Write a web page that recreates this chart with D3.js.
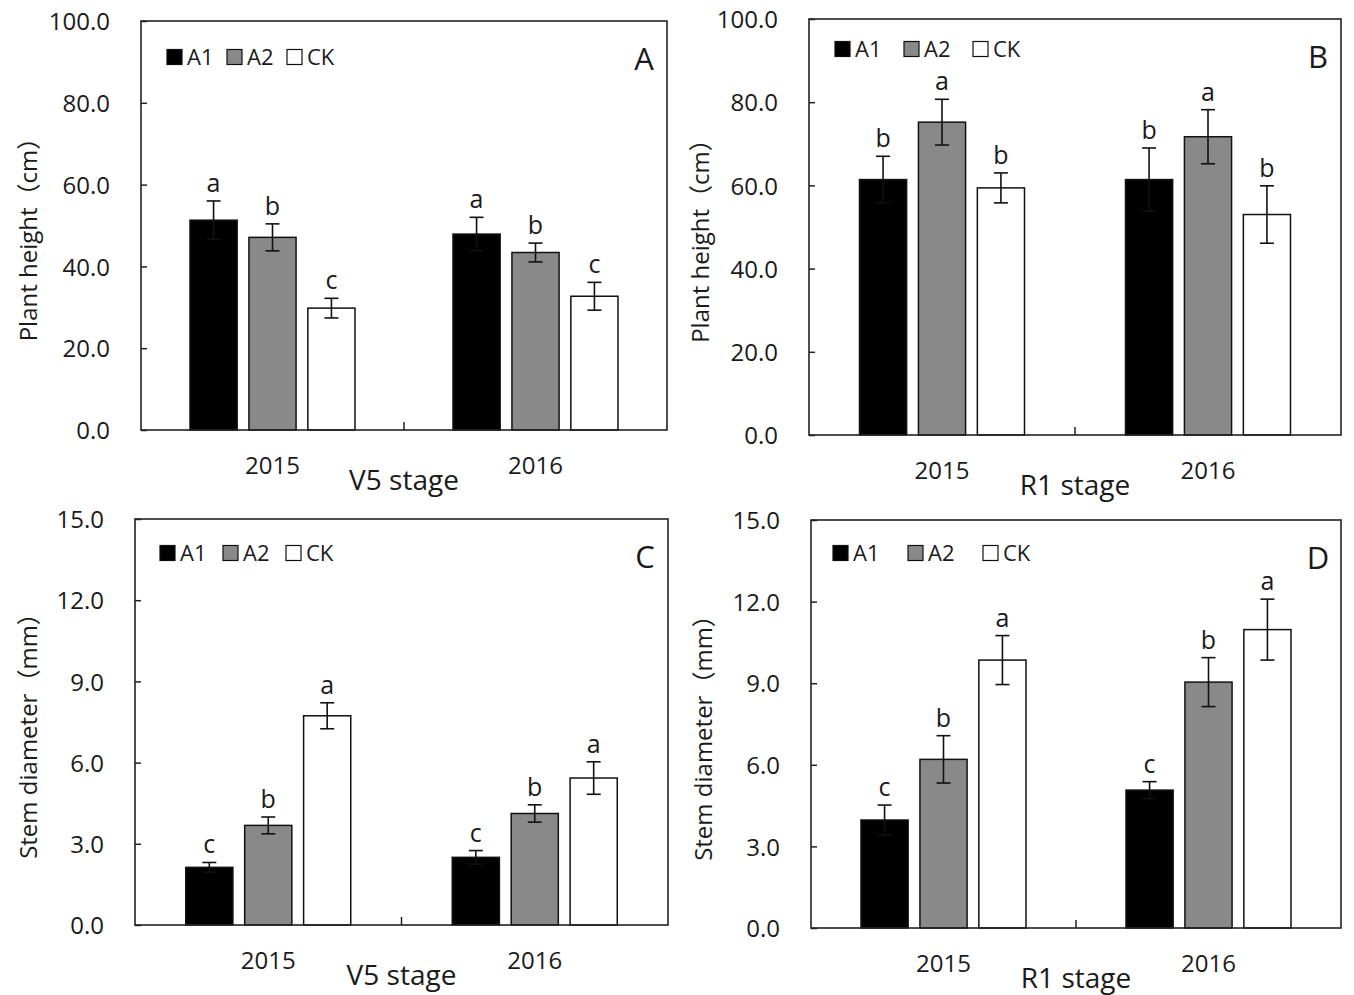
<!DOCTYPE html>
<html>
<head>
<meta charset="utf-8">
<script src="https://cdn.jsdelivr.net/npm/d3@7"></script>
<style>
  html, body { margin: 0; padding: 0; background: #fff; }
  text { font-family: "Open Sans", "Liberation Sans", "Noto Sans CJK SC", sans-serif; fill: #1a1a1a; }
</style>
</head>
<body>
<svg id="chart" width="1354" height="995"></svg>
<script>
// ---------------- data ----------------
const years = ["2015", "2016"];
const series = ["A1", "A2", "CK"];

// Panel A: plant height, V5 stage (cm)
const heightV5_A1 = [51.3, 47.9];
const heightV5_A2 = [47.1, 43.4];
const heightV5_CK = [29.8, 32.7];
const heightV5_err_A1 = [4.7, 4.1];
const heightV5_err_A2 = [3.3, 2.3];
const heightV5_err_CK = [2.4, 3.4];
const heightV5_sig_A1 = ["a", "a"];
const heightV5_sig_A2 = ["b", "b"];
const heightV5_sig_CK = ["c", "c"];

// Panel B: plant height, R1 stage (cm)
const heightR1_A1 = [61.4, 61.4];
const heightR1_A2 = [75.2, 71.7];
const heightR1_CK = [59.4, 53.0];
const heightR1_err_A1 = [5.6, 7.6];
const heightR1_err_A2 = [5.5, 6.5];
const heightR1_err_CK = [3.6, 6.9];
const heightR1_sig_A1 = ["b", "b"];
const heightR1_sig_A2 = ["a", "a"];
const heightR1_sig_CK = ["b", "b"];

// Panel C: stem diameter, V5 stage (mm)
const stemV5_A1 = [2.13, 2.50];
const stemV5_A2 = [3.68, 4.12];
const stemV5_CK = [7.73, 5.43];
const stemV5_err_A1 = [0.18, 0.25];
const stemV5_err_A2 = [0.31, 0.32];
const stemV5_err_CK = [0.48, 0.60];
const stemV5_sig_A1 = ["c", "c"];
const stemV5_sig_A2 = ["b", "b"];
const stemV5_sig_CK = ["a", "a"];

// Panel D: stem diameter, R1 stage (mm)
const stemR1_A1 = [3.97, 5.07];
const stemR1_A2 = [6.20, 9.04];
const stemR1_CK = [9.85, 10.97];
const stemR1_err_A1 = [0.55, 0.31];
const stemR1_err_A2 = [0.87, 0.90];
const stemR1_err_CK = [0.90, 1.12];
const stemR1_sig_A1 = ["c", "c"];
const stemR1_sig_A2 = ["b", "b"];
const stemR1_sig_CK = ["a", "a"];

const heightTicks = [0, 20, 40, 60, 80, 100];
const stemTicks = [0, 3, 6, 9, 12, 15];

const heightTitle = "Plant height（cm）";
const stemTitle = "Stem diameter（mm）";
const panelLetters = ["A", "B", "C", "D"];
const stageTitles = ["V5 stage", "R1 stage", "V5 stage", "R1 stage"];

// ---------------- layout / style ----------------
const seriesFill = { A1: "#000000", A2: "#898989", CK: "#ffffff" };

const panels = [
  { letter: panelLetters[0], stage: stageTitles[0], ytitle: heightTitle, ticks: heightTicks,
    vals: [heightV5_A1, heightV5_A2, heightV5_CK], errs: [heightV5_err_A1, heightV5_err_A2, heightV5_err_CK],
    sigs: [heightV5_sig_A1, heightV5_sig_A2, heightV5_sig_CK],
    box: { l: 141, r: 667, t: 21, b: 430 }, titleX: 37, legStep: 60, legX: 26, legY: 36 },
  { letter: panelLetters[1], stage: stageTitles[1], ytitle: heightTitle, ticks: heightTicks,
    vals: [heightR1_A1, heightR1_A2, heightR1_CK], errs: [heightR1_err_A1, heightR1_err_A2, heightR1_err_CK],
    sigs: [heightR1_sig_A1, heightR1_sig_A2, heightR1_sig_CK],
    box: { l: 809, r: 1341, t: 19, b: 435 }, titleX: 709, legStep: 69, legX: 26, legY: 30 },
  { letter: panelLetters[2], stage: stageTitles[2], ytitle: stemTitle, ticks: stemTicks,
    vals: [stemV5_A1, stemV5_A2, stemV5_CK], errs: [stemV5_err_A1, stemV5_err_A2, stemV5_err_CK],
    sigs: [stemV5_sig_A1, stemV5_sig_A2, stemV5_sig_CK],
    box: { l: 135, r: 668, t: 519, b: 925 }, titleX: 37, legStep: 63, legX: 25, legY: 34 },
  { letter: panelLetters[3], stage: stageTitles[3], ytitle: stemTitle, ticks: stemTicks,
    vals: [stemR1_A1, stemR1_A2, stemR1_CK], errs: [stemR1_err_A1, stemR1_err_A2, stemR1_err_CK],
    sigs: [stemR1_sig_A1, stemR1_sig_A2, stemR1_sig_CK],
    box: { l: 811, r: 1341, t: 520, b: 928 }, titleX: 712, legStep: 75, legX: 22, legY: 33 }
];

const svg = d3.select("#chart");
const fmt = d3.format(".1f");

panels.forEach(p => {
  const { l, r, t, b } = p.box;
  const g = svg.append("g");

  const y = d3.scaleLinear().domain([p.ticks[0], p.ticks[p.ticks.length - 1]]).range([b, t]);
  const x = d3.scaleBand().domain(years).range([l, r]).padding(0);
  const inner = d3.scaleBand().domain(series).range([-82.5, 82.5]).paddingInner(0.2).paddingOuter(0);

  // bars
  series.forEach((s, si) => {
    years.forEach((yr, yi) => {
      const v = p.vals[si][yi];
      const e = p.errs[si][yi];
      const cx = x(yr) + x.bandwidth() / 2;
      const bx = cx + inner(s);
      g.append("rect")
        .attr("x", bx).attr("y", y(v))
        .attr("width", inner.bandwidth()).attr("height", y(0) - y(v))
        .attr("fill", seriesFill[s]).attr("stroke", "#111").attr("stroke-width", 1.5);
      const mx = bx + inner.bandwidth() / 2;
      const capW = 7;
      const eg = g.append("g").attr("stroke", "#111").attr("stroke-width", 1.6);
      eg.append("line").attr("x1", mx).attr("x2", mx).attr("y1", y(v + e)).attr("y2", y(v - e));
      eg.append("line").attr("x1", mx - capW).attr("x2", mx + capW).attr("y1", y(v + e)).attr("y2", y(v + e));
      eg.append("line").attr("x1", mx - capW).attr("x2", mx + capW).attr("y1", y(v - e)).attr("y2", y(v - e));
      g.append("text")
        .attr("x", mx).attr("y", y(v + e) - 9)
        .attr("text-anchor", "middle").style("font-size", "25px")
        .text(p.sigs[si][yi]);
    });
  });

  // frame
  g.append("rect").attr("x", l).attr("y", t).attr("width", r - l).attr("height", b - t)
    .attr("fill", "none").attr("stroke", "#222").attr("stroke-width", 1.6);

  // y axis (inward ticks)
  const yAxis = d3.axisLeft(y).tickValues(p.ticks).tickFormat(fmt).tickSize(-6).tickPadding(31);
  const ya = g.append("g").attr("transform", `translate(${l},0)`).call(yAxis);
  ya.select(".domain").remove();
  ya.selectAll(".tick line").attr("stroke", "#222").attr("stroke-width", 1.5);
  ya.selectAll(".tick text").style("font-size", "24px").attr("fill", "#1a1a1a")
    .attr("font-family", null).attr("dy", "0.36em");

  // x axis: category labels and inner separator tick
  const xa = g.append("g").attr("transform", `translate(0,${b})`);
  years.forEach(yr => {
    xa.append("text").attr("x", x(yr) + x.bandwidth() / 2).attr("y", 44)
      .attr("text-anchor", "middle").style("font-size", "24px").text(yr);
  });
  xa.append("line").attr("x1", x(years[1])).attr("x2", x(years[1])).attr("y1", 0).attr("y2", -8)
    .attr("stroke", "#222").attr("stroke-width", 1.5);

  // x title
  g.append("text").attr("x", (l + r) / 2).attr("y", b + 60).attr("text-anchor", "middle")
    .style("font-size", "28px").text(p.stage);

  // y title
  g.append("text")
    .attr("transform", `translate(${p.titleX},${(t + b) / 2 + 8}) rotate(-90)`)
    .attr("text-anchor", "middle").style("font-size", "24px").attr("fill", "#222")
    .text(p.ytitle);

  // panel letter
  g.append("text").attr("x", r - 23).attr("y", t + 49).attr("text-anchor", "middle")
    .style("font-size", "31px").text(p.letter);

  // legend
  const lg = g.append("g").attr("transform", `translate(${l + p.legX},${t + p.legY})`);
  series.forEach((s, i) => {
    const it = lg.append("g").attr("transform", `translate(${i * p.legStep},0)`);
    it.append("rect").attr("x", 0).attr("y", -7.5).attr("width", 15).attr("height", 15)
      .attr("fill", seriesFill[s]).attr("stroke", "#111").attr("stroke-width", 1.2);
    it.append("text").attr("x", 20).attr("y", 0).attr("dy", "0.36em")
      .style("font-size", "22px").text(s);
  });
});
</script>
</body>
</html>
